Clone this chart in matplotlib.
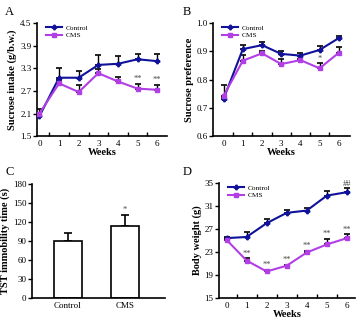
import numpy as np
import matplotlib
matplotlib.use("Agg")
import matplotlib.pyplot as plt
from matplotlib.lines import Line2D

plt.rcParams['font.family'] = ['Liberation Serif', 'DejaVu Serif']

weeks = [0, 1, 2, 3, 4, 5, 6]

# A: sucrose intake
intake_ctrl = [2.03, 3.05, 3.05, 3.39, 3.42, 3.54, 3.49]
intake_ctrl_err = [0.08, 0.26, 0.18, 0.27, 0.21, 0.15, 0.20]
intake_cms = [2.10, 2.90, 2.67, 3.17, 2.95, 2.76, 2.73]
intake_cms_err = [0.13, 0.10, 0.18, 0.10, 0.12, 0.13, 0.13]
intake_marks = ['', '', '', '', '', '**', '**']

# B: sucrose preference
pref_ctrl = [0.733, 0.908, 0.922, 0.891, 0.885, 0.905, 0.947]
pref_ctrl_err = [0.006, 0.013, 0.010, 0.010, 0.009, 0.014, 0.008]
pref_cms = [0.743, 0.867, 0.893, 0.855, 0.869, 0.840, 0.895]
pref_cms_err = [0.037, 0.020, 0.010, 0.017, 0.005, 0.018, 0.022]
pref_marks = ['', '', '', '', '', '*', '*']

# C: TST immobility
groups = ['Control', 'CMS']
tst = [90, 114]
tst_err = [12, 17]
tst_marks = ['', '*']

# D: body weight
bw_ctrl = [25.4, 25.6, 28.0, 29.8, 30.2, 32.8, 33.4]
bw_ctrl_err = [0.2, 0.9, 0.8, 0.5, 0.5, 0.8, 0.7]
bw_cms = [25.1, 21.5, 19.6, 20.6, 22.9, 24.3, 25.4]
bw_cms_err = [0.2, 0.4, 0.3, 0.2, 0.3, 1.0, 0.7]
bw_marks = ['', '**', '**', '**', '**', '**', '**']
bw_ctrl_marks = ['', '', '', '', '', '', '##']

c_ctrl = '#10129a'
c_cms = '#b23fe6'

fig = plt.figure(figsize=(3.6, 3.21), dpi=100)
axA = fig.add_axes([0.103, 0.576, 0.361, 0.352])
axB = fig.add_axes([0.592, 0.576, 0.381, 0.352])
axC = fig.add_axes([0.089, 0.072, 0.369, 0.355])
axD = fig.add_axes([0.608, 0.072, 0.378, 0.358])


def style(ax):
    for s in ['top', 'right']:
        ax.spines[s].set_visible(False)
    for s in ['left', 'bottom']:
        ax.spines[s].set_linewidth(1.2)
    ax.tick_params(axis='y', direction='out', length=3, width=1, labelsize=6.5, pad=1)
    ax.tick_params(axis='x', which='major', length=0, labelsize=6.5, pad=3)


def line_panel(ax, ctrl, ctrl_err, cms, cms_err, marks, ylim, yticks, fmt, ylabel, xlim, ctrl_marks=None):
    style(ax)
    ax.errorbar(weeks, ctrl, yerr=[np.zeros(7), ctrl_err], color=c_ctrl, ecolor='black',
                elinewidth=1, capsize=2, capthick=1.2, lw=1.5, marker='P', ms=3.2, zorder=3)
    ax.errorbar(weeks, cms, yerr=[np.zeros(7), cms_err], color=c_cms, ecolor='black',
                elinewidth=1, capsize=2, capthick=1.2, lw=1.5, marker='s', ms=2.8, zorder=3)
    span = ylim[1] - ylim[0]
    for x, y, e, m in zip(weeks, cms, cms_err, marks):
        if m:
            ax.text(x, y + e + span * 0.005, m, ha='center', va='bottom', fontsize=6, color='#444444')
    if ctrl_marks:
        for x, y, e, m in zip(weeks, ctrl, ctrl_err, ctrl_marks):
            if m:
                ax.text(x, y + e + span * 0.005, m, ha='center', va='bottom', fontsize=6, color='#444444')
    ax.set_xlim(*xlim)
    ax.set_ylim(*ylim)
    ax.set_yticks(yticks)
    ax.set_yticklabels([fmt % v for v in yticks])
    ax.set_xticks(weeks)
    ax.set_xticks([w + 0.5 for w in weeks[:-1]], minor=True)
    ax.tick_params(axis='x', which='minor', direction='in', length=3, width=1)
    ax.set_xlabel('Weeks', fontsize=7.5, fontweight='bold', labelpad=0)
    ax.set_ylabel(ylabel, fontsize=7.5, fontweight='bold', labelpad=2)
    handles = [Line2D([], [], color=c_ctrl, lw=1.5, marker='P', ms=3.2),
               Line2D([], [], color=c_cms, lw=1.5, marker='s', ms=2.8)]
    ax.legend(handles, ['Control', 'CMS'], loc='upper left', fontsize=5.3, frameon=False,
              handlelength=2.2, borderaxespad=0.1, handletextpad=0.5, labelspacing=0.2,
              bbox_to_anchor=(0.04, 1.02))


line_panel(axA, intake_ctrl, intake_ctrl_err, intake_cms, intake_cms_err, intake_marks,
           (1.5, 4.5), [1.5, 2.1, 2.7, 3.3, 3.9, 4.5], '%.1f', 'Sucrose intake (g/b.w.)', (-0.12, 6.5))
line_panel(axB, pref_ctrl, pref_ctrl_err, pref_cms, pref_cms_err, pref_marks,
           (0.6, 1.0), [0.6, 0.7, 0.8, 0.9, 1.0], '%.1f', 'Sucrose preference', (-0.55, 6.6))
line_panel(axD, bw_ctrl, bw_ctrl_err, bw_cms, bw_cms_err, bw_marks,
           (15, 35), [15, 19, 23, 27, 31, 35], '%d', 'Body weight (g)', (-0.38, 6.4), bw_ctrl_marks)

# C: bars
style(axC)
xpos = np.arange(len(groups))
axC.bar(xpos, tst, width=0.49, color='white', edgecolor='black', linewidth=1.2, zorder=2)
axC.errorbar(xpos, tst, yerr=[np.zeros(2), tst_err], fmt='none', ecolor='black',
             elinewidth=1.2, capsize=3, capthick=1.2, zorder=1)
for x, y, e, m in zip(xpos, tst, tst_err, tst_marks):
    if m:
        axC.text(x, y + e + 1, m, ha='center', va='bottom', fontsize=6, color='#444444')
axC.set_xlim(-0.62, 1.7)
axC.set_ylim(0, 180)
axC.set_yticks([0, 30, 60, 90, 120, 150, 180])
axC.set_xticks(xpos)
axC.set_xticklabels(groups)
axC.set_ylabel('TST immobility time (s)', fontsize=7.5, fontweight='bold', labelpad=2)

for lbl, x, y in [('A', 5, 12), ('B', 183, 12), ('C', 5, 172), ('D', 183, 172)]:
    fig.text(x / 360, 1 - y / 321, lbl, fontsize=9, ha='left', va='center')

fig.savefig('out.png', dpi=100)
